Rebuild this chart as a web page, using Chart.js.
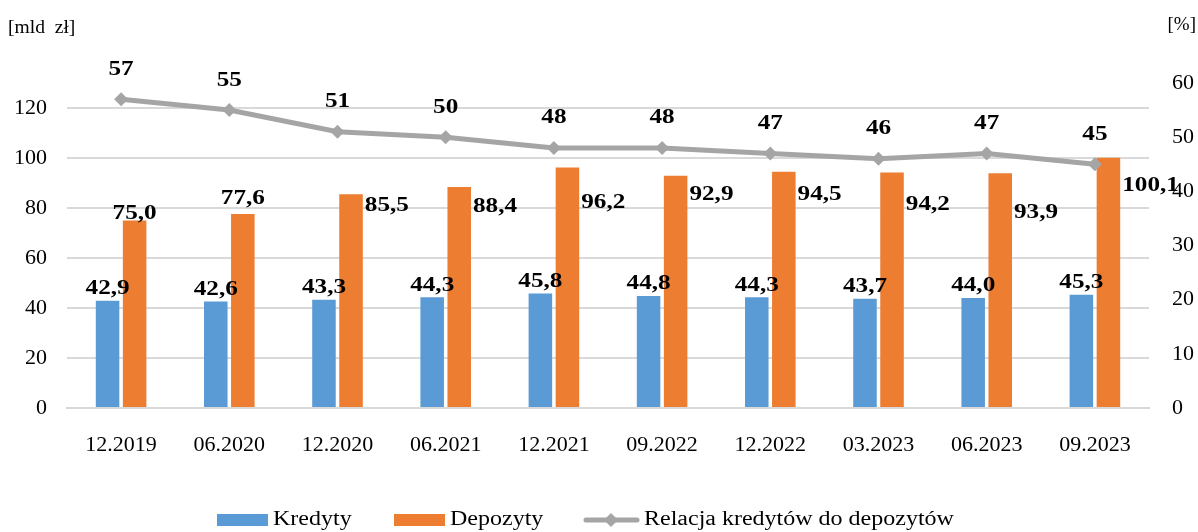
<!DOCTYPE html>
<html>
<head>
<meta charset="utf-8">
<script src="https://cdn.jsdelivr.net/npm/chart.js@4"></script>
<style>
  html, body { margin: 0; padding: 0; background: #fff; }
  #wrap { width: 1198px; height: 532px; }
</style>
</head>
<body>
<div id="wrap"><canvas id="c" width="1198" height="532"></canvas></div>
<script>
// dane
const okresy   = ['12.2019', '06.2020', '12.2020', '06.2021', '12.2021', '09.2022', '12.2022', '03.2023', '06.2023', '09.2023'];
const kredyty  = [42.9, 42.6, 43.3, 44.3, 45.8, 44.8, 44.3, 43.7, 44.0, 45.3];
const depozyty = [75.0, 77.6, 85.5, 88.4, 96.2, 92.9, 94.5, 94.2, 93.9, 100.1];
const relacja  = [57, 55, 51, 50, 48, 48, 47, 46, 47, 45];

const BLUE = '#5b9bd5', ORANGE = '#ed7d31', GREY = '#a5a5a5', GRID = '#d9d9d9';
const SERIF = "'Liberation Serif', 'Times New Roman', serif";

// położenie etykiet depozytów (jak w oryginale: dwie pierwsze nad słupkiem, reszta obok)
const depLabelPos = [['top', -7], ['top', -15], ['right', 11], ['right', 20], ['right', 35],
                     ['right', 19], ['right', 23], ['right', 32], ['right', 39], ['right', 28]];

const fmt = v => v.toFixed(1).replace('.', ',');

// tekst lekko rozciągnięty w poziomie (oryginał ma szersze litery)
function textX(ctx, txt, x, y, align, sx) {
  const w = ctx.measureText(txt).width * sx;
  let left = x;
  if (align === 'center') left = x - w / 2;
  else if (align === 'right') left = x - w;
  ctx.save();
  ctx.textAlign = 'left';
  ctx.translate(left, y);
  ctx.scale(sx, 1);
  ctx.fillText(txt, 0, 0);
  ctx.restore();
}

const labelsPlugin = {
  id: 'labels',
  afterDatasetsDraw(chart) {
    const ctx = chart.ctx;
    const SX = 1.2;
    ctx.save();
    ctx.fillStyle = '#000';
    ctx.font = `bold 21px ${SERIF}`;
    ctx.textBaseline = 'middle';

    // kredyty — nad słupkiem
    chart.getDatasetMeta(0).data.forEach((el, i) => {
      textX(ctx, fmt(kredyty[i]), el.x, el.y - 12, 'center', SX);
    });

    // depozyty
    chart.getDatasetMeta(1).data.forEach((el, i) => {
      const [mode, dy] = depLabelPos[i];
      if (mode === 'top') textX(ctx, fmt(depozyty[i]), el.x, el.y + dy, 'center', SX);
      else textX(ctx, fmt(depozyty[i]), el.x + el.width / 2 + 2, el.y + dy, 'left', SX);
    });

    // relacja
    chart.getDatasetMeta(2).data.forEach((el, i) => {
      textX(ctx, String(relacja[i]), el.x, el.y - 30, 'center', SX);
    });

    // jednostki osi
    ctx.font = `19px ${SERIF}`;
    textX(ctx, '[mld  zł]', 8, 28, 'left', 1.03);
    textX(ctx, '[%]', 1196, 25, 'right', 1);
    ctx.restore();
  }
};

// legenda rysowana ręcznie pod wykresem
const legendPlugin = {
  id: 'legendaDol',
  afterDraw(chart) {
    const ctx = chart.ctx;
    const y = 520;
    const SX = 1.2;
    ctx.save();
    ctx.font = `20px ${SERIF}`;
    ctx.textBaseline = 'middle';

    ctx.fillStyle = BLUE;
    ctx.fillRect(217, y - 6, 51, 12);
    ctx.fillStyle = '#000';
    textX(ctx, 'Kredyty', 273, y, 'left', SX);

    ctx.fillStyle = ORANGE;
    ctx.fillRect(394, y - 6, 51, 12);
    ctx.fillStyle = '#000';
    textX(ctx, 'Depozyty', 450, y, 'left', SX);

    ctx.strokeStyle = GREY;
    ctx.lineWidth = 5;
    ctx.lineCap = 'round';
    ctx.beginPath();
    ctx.moveTo(586, y);
    ctx.lineTo(637, y);
    ctx.stroke();
    ctx.fillStyle = GREY;
    ctx.beginPath();
    ctx.moveTo(611, y - 7);
    ctx.lineTo(618, y);
    ctx.lineTo(611, y + 7);
    ctx.lineTo(604, y);
    ctx.closePath();
    ctx.fill();
    ctx.fillStyle = '#000';
    textX(ctx, 'Relacja kredytów do depozytów', 644, y, 'left', SX);
    ctx.restore();
  }
};

new Chart(document.getElementById('c'), {
  data: {
    labels: okresy,
    datasets: [
      { type: 'bar', label: 'Kredyty', data: kredyty, backgroundColor: BLUE, yAxisID: 'y',
        order: 1, barPercentage: 0.87, categoryPercentage: 0.5 },
      { type: 'bar', label: 'Depozyty', data: depozyty, backgroundColor: ORANGE, yAxisID: 'y',
        order: 1, barPercentage: 0.87, categoryPercentage: 0.5 },
      { type: 'line', label: 'Relacja kredytów do depozytów', data: relacja, yAxisID: 'y2',
        order: 0, borderColor: GREY, borderWidth: 5, tension: 0,
        pointStyle: 'rectRot', pointRadius: 7, pointBackgroundColor: GREY, pointBorderWidth: 0 },
    ]
  },
  options: {
    responsive: false,
    animation: false,
    devicePixelRatio: 1,
    layout: { padding: { top: 83, left: 0, right: 0, bottom: 0 } },
    plugins: { legend: { display: false }, tooltip: { enabled: false } },
    scales: {
      x: {
        grid: { display: false },
        border: { display: true, color: GRID, width: 2 },
        ticks: { color: '#000', font: { family: SERIF, size: 22 }, padding: 16, maxRotation: 0 },
        afterFit(s) { s.height = 124; }
      },
      y: {
        position: 'left',
        min: 0, max: 130,
        grid: { color: GRID, lineWidth: 2, drawTicks: false },
        border: { display: false },
        ticks: { stepSize: 20, includeBounds: false, color: '#000', font: { family: SERIF, size: 22 }, padding: 20 },
        afterFit(s) { s.width = 67; }
      },
      y2: {
        position: 'right',
        min: 0, max: 60,
        grid: { drawOnChartArea: false, drawTicks: false },
        border: { display: false },
        ticks: { stepSize: 10, color: '#000', font: { family: SERIF, size: 22 }, padding: 23 },
        afterFit(s) { s.width = 49; }
      }
    }
  },
  plugins: [labelsPlugin, legendPlugin]
});
</script>
</body>
</html>
